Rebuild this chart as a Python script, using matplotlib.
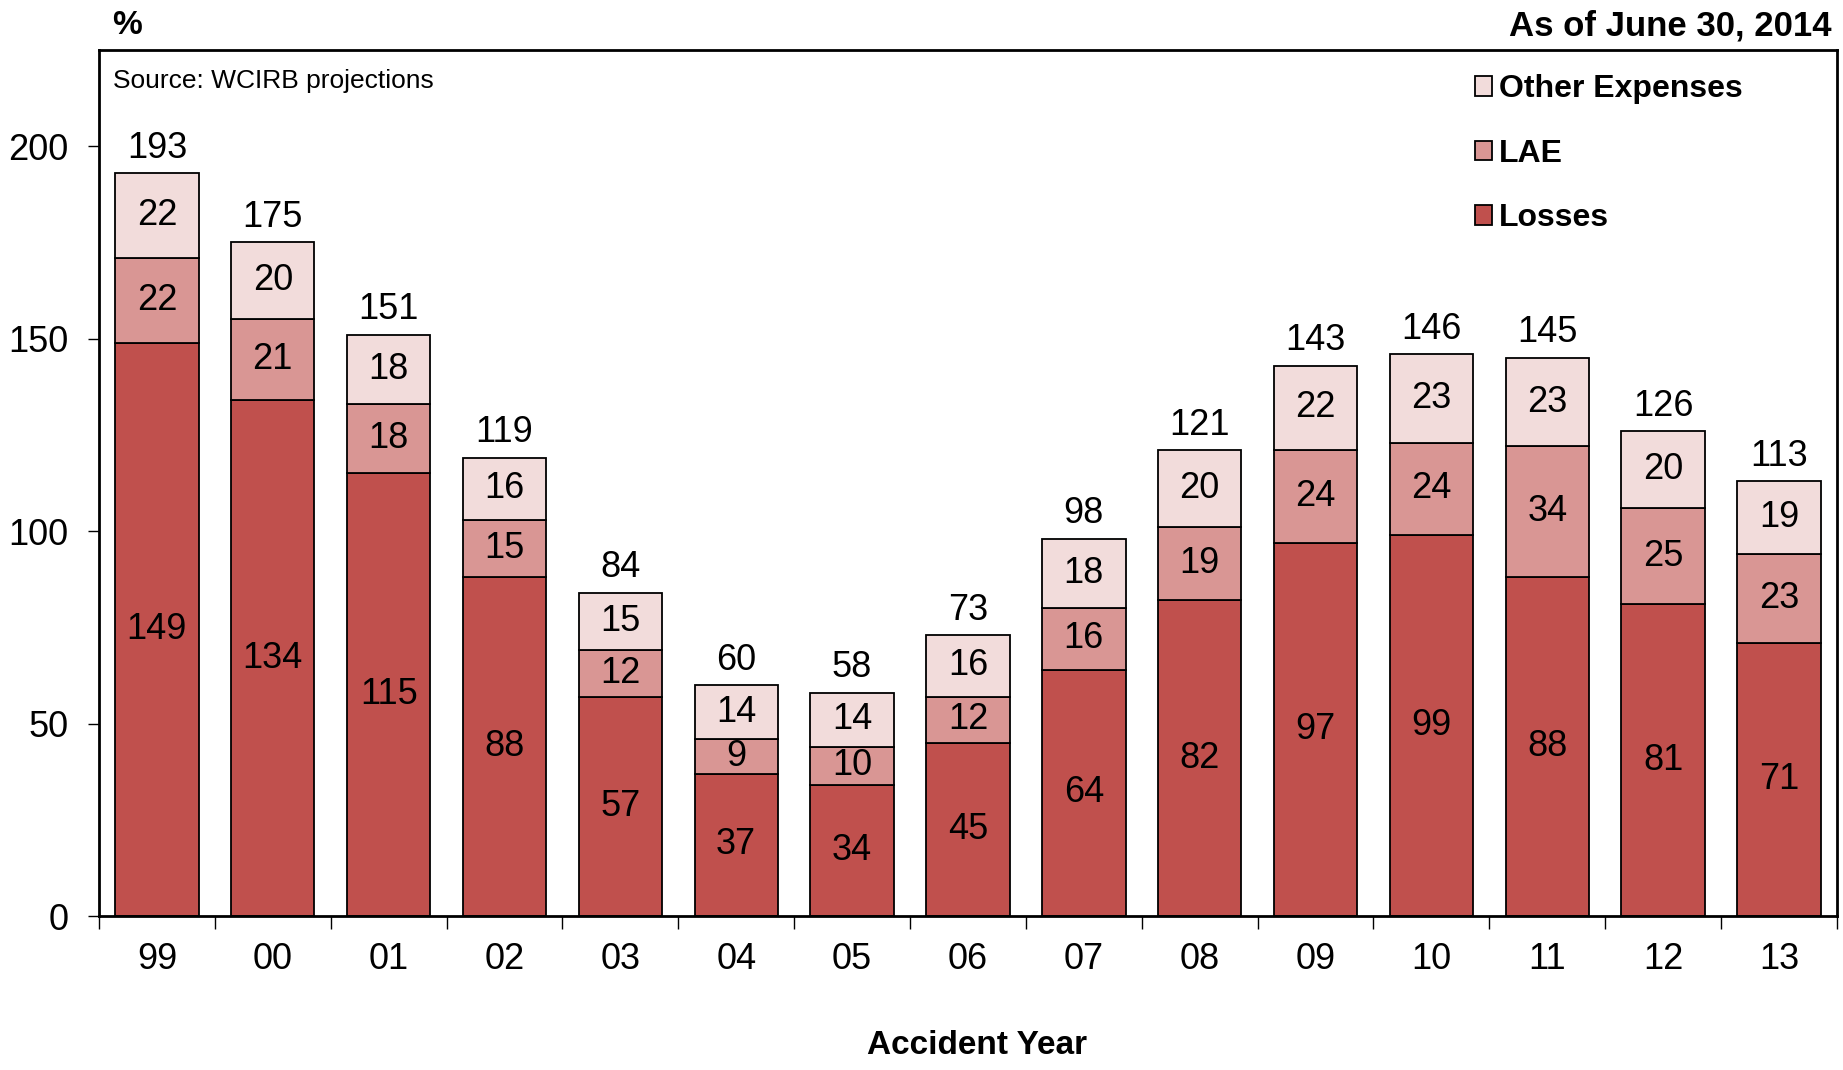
import numpy as np
import matplotlib
matplotlib.use('Agg')
import matplotlib.pyplot as plt
from matplotlib.patches import Patch

plt.rcParams['font.family'] = ['Liberation Sans', 'DejaVu Sans']

years = ['99', '00', '01', '02', '03', '04', '05', '06', '07', '08', '09', '10', '11', '12', '13']
losses = [149, 134, 115, 88, 57, 37, 34, 45, 64, 82, 97, 99, 88, 81, 71]
lae = [22, 21, 18, 15, 12, 9, 10, 12, 16, 19, 24, 24, 34, 25, 23]
other = [22, 20, 18, 16, 15, 14, 14, 16, 18, 20, 22, 23, 23, 20, 19]
totals = [193, 175, 151, 119, 84, 60, 58, 73, 98, 121, 143, 146, 145, 126, 113]

c_loss = '#C0504D'
c_lae = '#D99694'
c_other = '#F2DCDB'

fig = plt.figure(figsize=(18.43, 10.70), dpi=100)
ax = fig.add_axes([0.0537, 0.1439, 0.9430, 0.8094])

x = np.arange(len(years))
w = 0.72
losses = np.array(losses)
lae = np.array(lae)
other = np.array(other)

kw = dict(width=w, edgecolor='black', linewidth=1.3, zorder=2)
ax.bar(x, losses, color=c_loss, **kw)
ax.bar(x, lae, bottom=losses, color=c_lae, **kw)
ax.bar(x, other, bottom=losses + lae, color=c_other, **kw)

fs = 26
for i in range(len(years)):
    ax.text(x[i], losses[i] / 2, str(losses[i]), ha='center', va='center', fontsize=fs)
    ax.text(x[i], losses[i] + lae[i] / 2, str(lae[i]), ha='center', va='center', fontsize=fs)
    ax.text(x[i], losses[i] + lae[i] + other[i] / 2, str(other[i]), ha='center', va='center', fontsize=fs)
    ax.annotate(str(totals[i]), (x[i], losses[i] + lae[i] + other[i]), xytext=(0, 18),
                textcoords='offset points', ha='center', va='center', fontsize=fs)

ax.set_xlim(-0.5, len(years) - 0.5)
ax.set_ylim(0, 225)
ax.set_yticks([0, 50, 100, 150, 200])
ax.tick_params(axis='y', labelsize=fs, length=8, width=1, pad=14)
ax.set_xticks(x)
ax.set_xticklabels(years)
ax.tick_params(axis='x', which='major', length=0, labelsize=fs, pad=19)
ax.set_xticks(np.arange(-0.5, len(years)), minor=True)
ax.tick_params(axis='x', which='minor', length=9, width=1)
for s in ax.spines.values():
    s.set_linewidth(2)

fig.text(0.53, 0.008, 'Accident Year', fontsize=24, fontweight='bold', ha='center', va='bottom')
fig.text(0.061, 0.976, '%', fontsize=24, fontweight='bold', va='center')
fig.text(0.9935, 0.976, 'As of June 30, 2014', fontsize=25, fontweight='bold', ha='right', va='center')
ax.text(0.008, 0.964, 'Source: WCIRB projections', transform=ax.transAxes, fontsize=19, va='center')

handles = [Patch(facecolor=c_other, edgecolor='black', linewidth=1.3, label='Other Expenses'),
           Patch(facecolor=c_lae, edgecolor='black', linewidth=1.3, label='LAE'),
           Patch(facecolor=c_loss, edgecolor='black', linewidth=1.3, label='Losses')]
ax.legend(handles=handles, loc='upper left', bbox_to_anchor=(0.775, 1.005), frameon=False,
          handlelength=0.55, handleheight=0.55, handletextpad=0.2, labelspacing=1.08,
          prop={'size': 23, 'weight': 'bold'})

fig.savefig('out.png', dpi=100)
